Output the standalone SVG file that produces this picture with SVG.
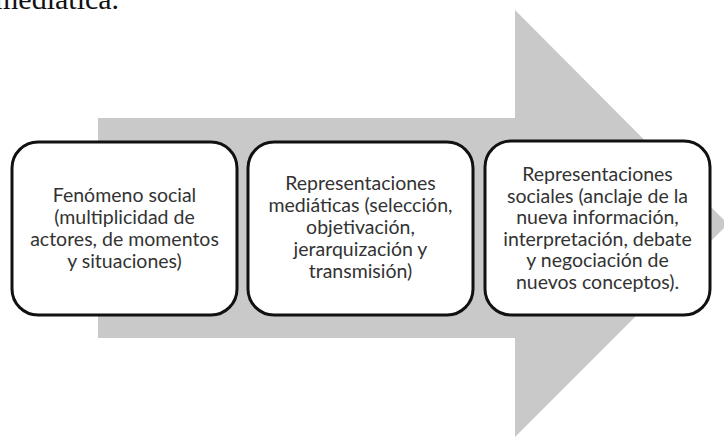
<svg xmlns="http://www.w3.org/2000/svg" width="724" height="441" viewBox="0 0 724 441">
<style>
.box{fill:#ffffff;stroke:#111111;stroke-width:3}
.lbl{font-family:Lato,"Open Sans",sans-serif;font-size:19.5px;fill:#333333;text-anchor:middle}
</style>
<rect width="724" height="441" fill="#ffffff"/>
<text x="-5" y="9" font-family="Liberation Serif,serif" font-size="30" fill="#111">mediática.</text>
<g id="arrow">
<polygon points="98,118 515,118 515,10 728,224 515,437 515,338 98,338" fill="#c9c9c9"/>
</g>
<g id="node1">
<rect class="box" x="12" y="142" width="225" height="173" rx="26"/>
<text class="lbl"><tspan x="124.5" y="202">Fenómeno social</tspan><tspan x="124.5" y="224">(multiplicidad de</tspan><tspan x="124.5" y="246">actores, de momentos</tspan><tspan x="124.5" y="268">y situaciones)</tspan></text>
</g>
<g id="node2">
<rect class="box" x="248" y="142" width="225" height="173" rx="26"/>
<text class="lbl"><tspan x="360.5" y="190">Representaciones</tspan><tspan x="360.5" y="212">mediáticas (selección,</tspan><tspan x="360.5" y="234">objetivación,</tspan><tspan x="360.5" y="256">jerarquización y</tspan><tspan x="360.5" y="278">transmisión)</tspan></text>
</g>
<g id="node3">
<rect class="box" x="485" y="141" width="225" height="174" rx="26"/>
<text class="lbl"><tspan x="597.5" y="181">Representaciones</tspan><tspan x="597.5" y="202.5">sociales (anclaje de la</tspan><tspan x="597.5" y="224">nueva información,</tspan><tspan x="597.5" y="245.5">interpretación, debate</tspan><tspan x="597.5" y="267">y negociación de</tspan><tspan x="597.5" y="288.5">nuevos conceptos).</tspan></text>
</g>
<g id="connectors"></g>
</svg>
